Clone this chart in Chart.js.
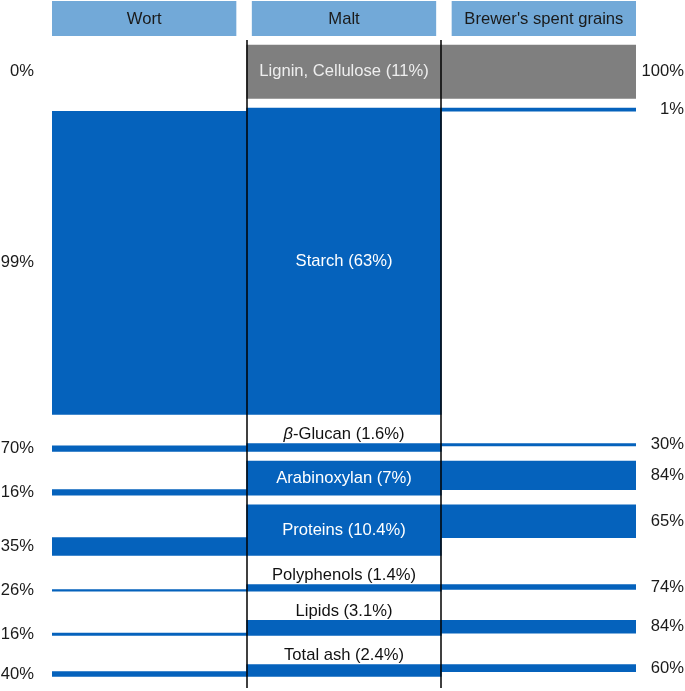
<!DOCTYPE html>
<html>
<head>
<meta charset="utf-8">
<title>Malt components: wort vs brewer's spent grains</title>
<script src="https://cdn.jsdelivr.net/npm/chart.js@4/dist/chart.umd.min.js"></script>
<style>
  html, body { margin: 0; padding: 0; background: #ffffff; }
  #chart { display: block; }
</style>
</head>
<body>
<canvas id="chart" width="685" height="691"></canvas>
<script>
// column headers
const columns = ["Wort", "Malt", "Brewer's spent grains"];

// malt components and their share of the malt (%)
const components = ["Lignin, Cellulose", "Starch", "β-Glucan", "Arabinoxylan", "Proteins", "Polyphenols", "Lipids", "Total ash"];
const maltShare = [11, 63, 1.6, 7, 10.4, 1.4, 3.1, 2.4];

// where each component ends up (% of the component)
const wortShare = [0, 99, 70, 16, 35, 26, 16, 40];
const bsgShare = [100, 1, 30, 84, 65, 74, 84, 60];

const blue = "#0562bc";
const grey = "#7f7f7f";
const headerBlue = "#72a9d8";
const font = "16.6px 'Liberation Sans', Arial, sans-serif";

// small components get their label above the bar, so they need more room
function labelAbove(i) {
  return maltShare[i] < 5;
}

// stack the rows one under the other, spent grains part on top, wort part below
let rows = [];
let start = 0;
components.forEach((name, i) => {
  if (i > 0) start += labelAbove(i) ? 6 : 2;
  let end = start + maltShare[i];
  let split = start + maltShare[i] * bsgShare[i] / 100;
  rows.push({ start: start, end: end, split: split });
  start = end;
});

const datasets = components.map((name, i) => {
  let r = rows[i];
  return {
    label: name,
    data: [
      wortShare[i] > 0 ? [r.split, r.end] : null,
      [r.start, r.end],
      [r.start, r.split],
    ],
    backgroundColor: i === 0 ? grey : blue,
    borderWidth: 0,
    barPercentage: 1,
    categoryPercentage: 1,
    grouped: false,
  };
});

// headers, separator lines and all the text
const decorations = {
  id: "decorations",
  afterDatasetsDraw(chart) {
    const ctx = chart.ctx;
    const area = chart.chartArea;
    const x = chart.scales.x;
    const y = chart.scales.y;
    ctx.save();

    // header boxes
    let gap = 15.5;
    let boxW = (area.right - area.left - 2 * gap) / 3;
    columns.forEach((col, i) => {
      let bx = area.left + i * (boxW + gap);
      ctx.fillStyle = headerBlue;
      ctx.fillRect(bx, 1, boxW, 35);
      ctx.fillStyle = "#1a1a1a";
      ctx.font = font;
      ctx.textAlign = "center";
      ctx.textBaseline = "middle";
      ctx.fillText(col, bx + boxW / 2, 19);
    });

    // black lines around the malt column
    ctx.strokeStyle = "#000000";
    ctx.lineWidth = 1.5;
    [0.5, 1.5].forEach((v) => {
      let px = Math.round(x.getPixelForValue(v));
      ctx.beginPath();
      ctx.moveTo(px, area.top);
      ctx.lineTo(px, area.bottom);
      ctx.stroke();
    });

    ctx.font = font;
    ctx.textBaseline = "middle";
    components.forEach((name, i) => {
      let r = rows[i];

      // percentages going to the wort (left) and to the spent grains (right)
      let wortMid = wortShare[i] > 0 ? (r.split + r.end) / 2 : (r.start + r.end) / 2;
      let bsgMid = (r.start + r.split) / 2;
      ctx.fillStyle = "#1a1a1a";
      ctx.textAlign = "right";
      ctx.fillText(wortShare[i] + "%", area.left - 18, y.getPixelForValue(wortMid));
      ctx.fillText(bsgShare[i] + "%", area.right + 48, y.getPixelForValue(bsgMid));

      // component name in the malt column
      let cx = x.getPixelForValue(1);
      let cy;
      if (labelAbove(i)) {
        ctx.fillStyle = "#111111";
        cy = y.getPixelForValue(r.start) - 9;
      } else {
        ctx.fillStyle = i === 0 ? "#eeeeee" : "#ffffff";
        cy = y.getPixelForValue((r.start + r.end) / 2);
      }
      let rest = name + " (" + maltShare[i] + "%)";
      let head = "";
      if (name.charAt(0) === "β") {
        head = "β";
        rest = rest.slice(1);
      }
      let italic = "italic " + font;
      ctx.font = italic;
      let headW = head ? ctx.measureText(head).width : 0;
      ctx.font = font;
      let restW = ctx.measureText(rest).width;
      let left = cx - (headW + restW) / 2;
      ctx.textAlign = "left";
      if (head) {
        ctx.font = italic;
        ctx.fillText(head, left, cy);
        ctx.font = font;
      }
      ctx.fillText(rest, left + headW, cy);
    });

    ctx.restore();
  },
};

const yMin = -1.03;
const yMax = 132.3;

new Chart(document.getElementById("chart"), {
  type: "bar",
  data: {
    labels: columns,
    datasets: datasets,
  },
  options: {
    responsive: false,
    animation: false,
    devicePixelRatio: 1,
    layout: {
      padding: { left: 52, right: 49, top: 40, bottom: 3 },
    },
    plugins: {
      legend: { display: false },
      tooltip: { enabled: false },
    },
    scales: {
      x: { display: false },
      y: { display: false, reverse: true, min: yMin, max: yMax },
    },
  },
  plugins: [decorations],
});
</script>
</body>
</html>
